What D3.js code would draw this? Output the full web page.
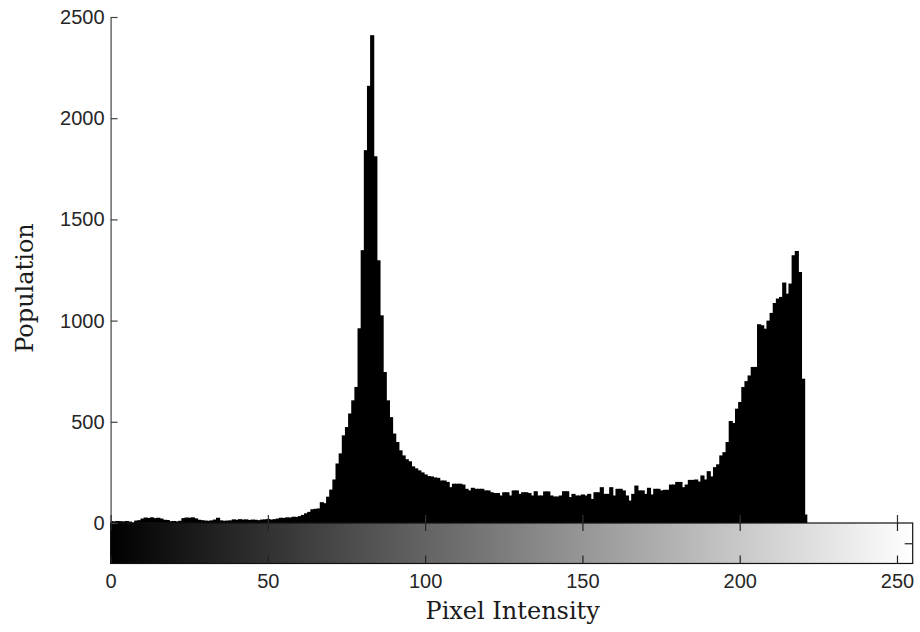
<!DOCTYPE html>
<html>
<head>
<meta charset="utf-8">
<script src="https://cdn.jsdelivr.net/npm/d3@7/dist/d3.min.js"></script>
<style>
  html, body { margin: 0; padding: 0; background: #fff; }
  svg { display: block; }
  .tick text { font-family: "Liberation Sans", Arial, sans-serif; font-size: 20px; fill: #262626; }
  .axis-title { font-family: "DejaVu Serif", "Liberation Serif", serif; font-size: 24px; fill: #1a1a1a; }
</style>
</head>
<body>
<svg id="chart" width="920" height="632"></svg>
<script>
// Pixel counts per grey level 0..221 (levels above 221 are empty)
const counts = [
  9, 8, 10, 9, 8, 10, 7, 2, 12, 14,
  22, 27, 25, 28, 24, 26, 22, 16, 15, 9,
  10, 8, 11, 24, 27, 26, 28, 23, 16, 14,
  12, 11, 13, 17, 26, 13, 11, 12, 13, 18,
  16, 19, 17, 18, 15, 17, 16, 14, 17, 18,
  20, 17, 19, 22, 26, 25, 28, 27, 31, 30,
  34, 40, 48, 55, 68, 70, 72, 103, 98, 130,
  165, 215, 294, 344, 433, 474, 541, 606, 672, 962,
  1348, 1842, 2160, 2410, 1812, 1298, 1026, 746, 606, 523,
  442, 400, 359, 334, 315, 305, 280, 270, 260, 250,
  240, 232, 230, 225, 223, 210, 210, 203, 177, 194,
  194, 194, 190, 169, 161, 174, 169, 169, 169, 161,
  161, 152, 148, 148, 136, 152, 152, 136, 161, 161,
  144, 152, 152, 148, 136, 157, 136, 136, 156, 156,
  136, 131, 131, 136, 157, 157, 128, 144, 136, 136,
  141, 136, 144, 119, 152, 152, 177, 144, 144, 177,
  136, 169, 169, 161, 136, 111, 144, 185, 161, 161,
  144, 174, 141, 169, 169, 161, 164, 164, 190, 190,
  203, 203, 177, 190, 213, 213, 215, 205, 235, 215,
  256, 230, 276, 290, 334, 350, 400, 504, 494, 565,
  598, 672, 701, 729, 771, 771, 982, 977, 960, 1000,
  1038, 1087, 1109, 1117, 1188, 1133, 1183, 1323, 1344, 1240,
  713, 42
];
const levels = counts.map((_, i) => i);

// Grey levels shown in the colour strip under the histogram
const stripLevels = Array.from({ length: 256 }, (_, i) => i);

const xTicks = [0, 50, 100, 150, 200, 250];
const yTicks = [0, 500, 1000, 1500, 2000, 2500];
const xDomain = [0, 255];
const yDomain = [-200, 2500];

const xTitle = "Pixel Intensity";
const yTitle = "Population";

const svg = d3.select("#chart");

const left = 110.6, right = 912.7;
const yTop = 17, yZero = 523;

const x = d3.scaleLinear().domain(xDomain).range([left, right]);
const y = d3.scaleLinear().domain([0, 2500]).range([yZero, yTop]);
const yStripBottom = y(yDomain[0]);

// clip to the plotting box
const defs = svg.append("defs");
defs.append("clipPath").attr("id", "plotClip")
  .append("rect")
  .attr("x", left).attr("y", 0)
  .attr("width", right - left).attr("height", yZero);
defs.append("clipPath").attr("id", "stripClip")
  .append("rect")
  .attr("x", left).attr("y", yZero)
  .attr("width", right - left).attr("height", yStripBottom - yZero);

// histogram bars (each drawn 1px wider so neighbours overlap without seams)
const bw = x(1) - x(0);
svg.append("g").attr("clip-path", "url(#plotClip)")
  .selectAll("rect").data(levels).join("rect")
  .attr("x", d => x(d - 0.5))
  .attr("width", d => d === levels.length - 1 ? bw : bw + 1)
  .attr("y", d => y(counts[d]))
  .attr("height", d => y(0) - y(counts[d]))
  .attr("fill", "#000");

// grey-level strip
svg.append("g").attr("clip-path", "url(#stripClip)")
  .selectAll("rect").data(stripLevels).join("rect")
  .attr("x", d => x(d - 0.5))
  .attr("width", bw + 1)
  .attr("y", yZero)
  .attr("height", yStripBottom - yZero)
  .attr("fill", d => d3.rgb(d, d, d));

svg.append("rect")
  .attr("x", left).attr("y", yZero)
  .attr("width", right - left).attr("height", yStripBottom - yZero)
  .attr("fill", "none").attr("stroke", "#111").attr("stroke-width", 1.2);

// y axis (ticks point into the plot)
const yAxis = svg.append("g")
  .attr("transform", `translate(${left},0)`)
  .call(d3.axisLeft(y).tickValues(yTicks).tickFormat(d3.format("d"))
    .tickSizeInner(-7).tickSizeOuter(0).tickPadding(6));
yAxis.select(".domain").attr("stroke", "#444").attr("stroke-width", 1.2);
yAxis.selectAll(".tick line").attr("stroke", "#444").attr("stroke-width", 1.2);

// x ticks of the histogram, pointing up from the baseline
const xUp = svg.append("g")
  .attr("transform", `translate(0,${yZero})`)
  .call(d3.axisBottom(x).tickValues(xTicks).tickSizeInner(-8).tickSizeOuter(0).tickFormat(""));
xUp.select(".domain").remove();
xUp.selectAll(".tick line").attr("stroke", "#333").attr("stroke-width", 1.2);

// strip ticks: top edge pointing down
const xTopStrip = svg.append("g")
  .attr("transform", `translate(0,${yZero})`)
  .call(d3.axisTop(x).tickValues(xTicks).tickSizeInner(-8).tickSizeOuter(0).tickFormat(""));
xTopStrip.select(".domain").remove();
xTopStrip.selectAll(".tick line").attr("stroke", "#222").attr("stroke-width", 1.2);

// strip ticks: bottom edge pointing up, with labels
const xAxis = svg.append("g")
  .attr("transform", `translate(0,${yStripBottom})`)
  .call(d3.axisBottom(x).tickValues(xTicks).tickFormat(d3.format("d"))
    .tickSizeInner(-8).tickSizeOuter(0).tickPadding(10));
xAxis.select(".domain").remove();
xAxis.selectAll(".tick line").attr("stroke", "#222").attr("stroke-width", 1.2);

// side tick of the strip
const yStrip = d3.scaleLinear().domain([0, 1]).range([yStripBottom, yZero]);
const sideR = svg.append("g").attr("transform", `translate(${right},0)`)
  .call(d3.axisRight(yStrip).tickValues([0.5]).tickSizeInner(-8).tickSizeOuter(0).tickFormat(""));
sideR.select(".domain").remove();
sideR.selectAll(".tick line").attr("stroke", "#222").attr("stroke-width", 1.2);

// axis titles
svg.append("text").attr("class", "axis-title")
  .attr("x", (left + right) / 2 + 1).attr("y", 619)
  .attr("text-anchor", "middle").text(xTitle);

svg.append("text").attr("class", "axis-title")
  .attr("transform", "translate(33,288) rotate(-90)")
  .attr("text-anchor", "middle").text(yTitle);
</script>
</body>
</html>
